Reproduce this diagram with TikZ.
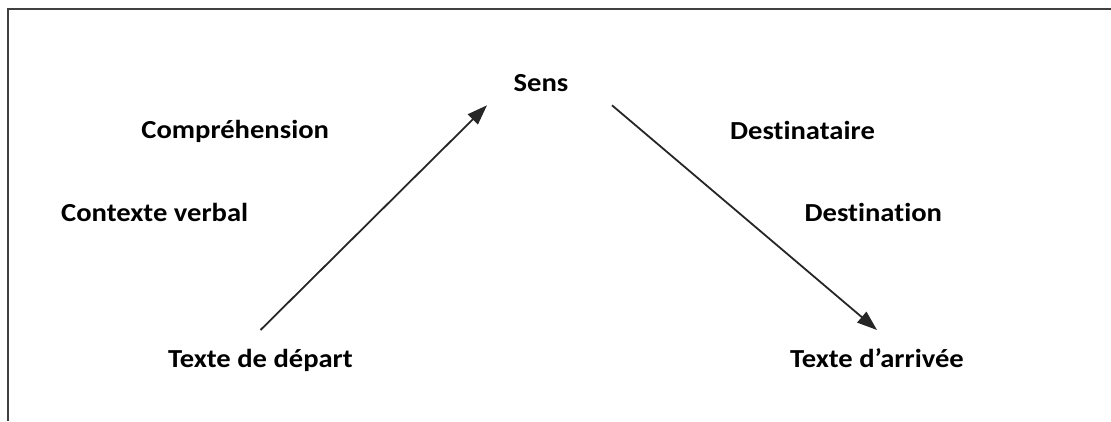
\documentclass[tikz,border=0pt]{standalone}
\usepackage{fontspec}
\setmainfont[Ligatures=NoCommon]{Carlito}
\usepackage{tikz}
\usetikzlibrary{arrows.meta}
\tikzset{>={Triangle[width=14pt,length=20pt]}}
\newcommand{\etire}[1]{\scalebox{1.1}[1]{#1}}

\begin{document}
\begin{tikzpicture}[x=1pt, y=1pt, mot/.style={draw=none, fill=none, inner sep=0pt, anchor=base, font=\bfseries\fontsize{26}{31}\selectfont}, fleche/.style={->, line width=1.8pt, black!85}, cadre/.style={line width=2pt, black!75}]
    \useasboundingbox (0,0) rectangle (1111,421);

    %Frame
    \draw[cadre] (1111,411.5) -- (8,411.5) -- (8,0);

    %Nodes
    \node[mot](sens) at (541,329.7){\etire{Sens}};
    \node[mot](comprehension) at (235.2,282.3){\etire{Compréhension}};
    \node[mot](contexte) at (154.7,199.3){\etire{Contexte verbal}};
    \node[mot](destinataire) at (802.5,281){\etire{Destinataire}};
    \node[mot](destination) at (873.3,199.3){\etire{Destination}};
    \node[mot](depart) at (260.5,54){\etire{Texte de départ}};
    \node[mot](arrivee) at (877,54){\etire{Texte d’arrivée}};

    %Lines
    \draw[fleche] ([yshift=37pt]depart.base) -- ([xshift=-54pt, yshift=-14pt]sens.base);
    \draw[fleche] ([xshift=71pt, yshift=-14pt]sens.base) -- ([yshift=37pt]arrivee.base);

\end{tikzpicture}
\end{document}
